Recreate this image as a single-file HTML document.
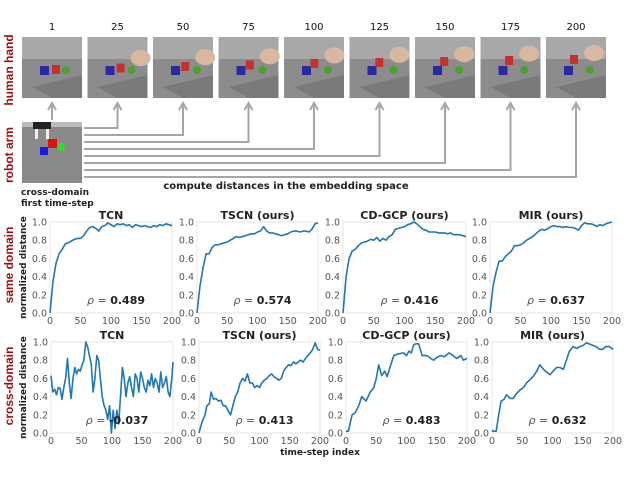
<!DOCTYPE html>
<html><head><meta charset="utf-8"><style>
body{margin:0;background:#fff;width:640px;height:482px;overflow:hidden}
svg{display:block;font-family:"DejaVu Sans","Liberation Sans",sans-serif}
</style></head><body>
<svg id="fig" width="640" height="482" viewBox="0 0 640 482">
<g id="topsec"></g>
<g id="charts"></g>
</svg>
<script>
const NS="http://www.w3.org/2000/svg";
const frameLabels=["1","25","50","75","100","125","150","175","200"];
const handProgress=[0,0.15,0.3,0.45,0.6,0.7,0.8,0.9,1.0];
const titles=["TCN","TSCN (ours)","CD-GCP (ours)","MIR (ours)"];
const rhoSame=["0.489","0.574","0.416","0.637"];
const rhoCross=["-0.037","0.413","0.483","0.632"];
const yTicks=[0,0.2,0.4,0.6,0.8,1.0];
const xTicks=[0,50,100,150,200];
const sameX=[0,5,10,15,20,25,30,35,40,45,50,55,60,65,70,75,80,85,90,95,100,105,110,115,120,125,130,135,140,145,150,155,160,165,170,175,180,185,190,195,200];
const sameTCN=[0,0.35,0.55,0.65,0.7,0.76,0.77,0.79,0.81,0.82,0.82,0.85,0.9,0.94,0.95,0.93,0.9,0.95,0.96,0.99,0.97,0.95,0.98,0.97,0.98,0.96,0.97,0.94,0.97,0.96,0.95,0.96,0.95,0.94,0.96,0.95,0.97,0.96,0.98,0.97,0.96];
const sameTSCN=[0,0.3,0.5,0.65,0.65,0.72,0.75,0.75,0.76,0.77,0.78,0.8,0.82,0.84,0.83,0.84,0.85,0.86,0.87,0.87,0.89,0.9,0.95,0.9,0.88,0.88,0.87,0.86,0.85,0.86,0.87,0.89,0.9,0.9,0.89,0.9,0.9,0.89,0.92,0.98,0.99];
const sameGCP=[0,0.4,0.6,0.68,0.7,0.74,0.77,0.78,0.79,0.81,0.8,0.83,0.79,0.82,0.8,0.84,0.86,0.92,0.93,0.94,0.95,0.97,0.98,1.0,0.98,0.95,0.92,0.91,0.89,0.89,0.89,0.88,0.88,0.88,0.87,0.88,0.86,0.86,0.86,0.85,0.84];
const sameMIR=[0,0.3,0.45,0.57,0.57,0.62,0.65,0.68,0.74,0.74,0.75,0.77,0.8,0.82,0.84,0.87,0.9,0.92,0.91,0.93,0.95,0.96,0.95,0.95,0.94,0.95,0.94,0.94,0.93,0.91,0.96,0.99,0.98,0.98,0.97,0.95,0.97,0.96,0.98,0.99,1.0];
const crossTCNx=[0,3,6,9,12,15,18,21,24,27,30,33,36,39,42,45,48,51,54,57,60,63,66,69,72,75,78,81,84,87,90,93,96,99,102,105,108,111,114,117,120,123,126,129,132,135,138,141,144,147,150,153,156,159,162,165,168,171,174,177,180,183,186,189,192,195,198,200];
const crossTCN=[0.63,0.45,0.48,0.42,0.5,0.49,0.37,0.5,0.6,0.82,0.55,0.38,0.6,0.72,0.65,0.7,0.68,0.75,0.8,1.0,0.95,0.85,0.75,0.45,0.6,0.85,0.8,0.6,0.4,0.3,0.25,0.15,0.3,0.0,0.25,0.05,0.25,0.1,0.4,0.72,0.6,0.4,0.55,0.62,0.5,0.4,0.65,0.6,0.45,0.67,0.6,0.5,0.45,0.58,0.52,0.65,0.5,0.6,0.55,0.45,0.67,0.5,0.55,0.62,0.45,0.4,0.6,0.78];
const crossTSCNx=[0,5,10,13,17,20,24,28,32,36,40,44,48,52,56,60,64,68,72,76,80,84,88,92,96,100,104,108,112,116,120,124,128,132,136,140,144,148,152,156,160,164,168,172,176,180,184,188,192,196,200];
const crossTSCN=[0,0.12,0.2,0.3,0.32,0.45,0.37,0.38,0.35,0.36,0.3,0.3,0.25,0.2,0.3,0.4,0.45,0.55,0.6,0.57,0.65,0.55,0.55,0.5,0.52,0.5,0.55,0.58,0.6,0.63,0.65,0.62,0.6,0.58,0.6,0.68,0.72,0.75,0.74,0.78,0.76,0.78,0.8,0.78,0.82,0.85,0.88,0.92,0.99,0.92,0.91];
const crossGCPx=[0,4,10,15,21,26,33,40,46,50,54,59,64,68,74,79,87,95,100,104,108,112,116,120,126,134,140,145,150,156,163,170,177,183,190,194,200];
const crossGCP=[0.02,0.02,0.2,0.22,0.3,0.4,0.35,0.45,0.5,0.6,0.75,0.63,0.68,0.62,0.75,0.85,0.87,0.88,0.85,0.9,0.88,0.97,0.98,0.98,0.85,0.85,0.82,0.8,0.83,0.85,0.84,0.88,0.85,0.82,0.85,0.8,0.82];
const crossMIRx=[0,2,7,11,15,20,24,30,35,40,46,52,57,62,68,74,79,85,90,96,101,107,112,118,123,128,134,140,145,150,156,164,172,178,183,188,194,200];
const crossMIR=[0.03,0.02,0.02,0.2,0.35,0.37,0.42,0.38,0.38,0.43,0.47,0.5,0.55,0.58,0.62,0.68,0.75,0.7,0.67,0.64,0.68,0.72,0.72,0.7,0.8,0.9,0.95,0.93,0.95,0.96,0.99,0.97,0.95,0.92,0.92,0.95,0.95,0.92];

function el(tag,attrs,parent,txt){const e=document.createElementNS(NS,tag);for(const k in attrs)e.setAttribute(k,attrs[k]);if(txt!==undefined)e.textContent=txt;parent.appendChild(e);return e;}
const topG=document.getElementById('topsec');
const sides=[["human hand",70,"human-hand-label"],["robot arm",155,"robot-arm-label"],["same domain",265,"same-domain-label"],["cross-domain",386,"cross-domain-label"]];
sides.forEach(s=>{const t=el('text',{x:0,y:0,transform:`translate(13,${s[1]}) rotate(-90)`,'text-anchor':'middle','font-size':'12','font-weight':'bold','font-family':'Liberation Sans, sans-serif',fill:'#a01010'},topG,s[0]);

});
const fx0=22,fstep=65.5,fw=60,fy=37,fh=61;
frameLabels.forEach((lab,i)=>{const x=fx0+i*fstep;
const g=el('g',{},topG);


el('rect',{x:x,y:fy,width:fw,height:fh,fill:'#8c8c8c'},g);
el('rect',{x:x,y:fy,width:fw,height:22,fill:'#a8a8a8'},g);
el('polygon',{points:`${x+10},${fy+50} ${x+fw},${fy+38} ${x+fw},${fy+fh} ${x+30},${fy+fh}`,fill:'#7a7a7a'},g);
el('rect',{x:x+18,y:fy+29,width:9,height:9,fill:'#2a2aa0'},g);
const p=handProgress[i];
el('rect',{x:x+30-p*6,y:fy+28-p*10,width:8,height:9,fill:'#c83030'},g);
el('circle',{cx:x+44,cy:fy+33,r:4,fill:'#4aa030'},g);
if(i>0){el('ellipse',{cx:x+fw-6-p*6,cy:fy+22-p*6,rx:10,ry:8,fill:'#d8b8a0'},g);}
const t=el('text',{x:x+fw/2,y:30,'text-anchor':'middle','font-size':'10',fill:'#111'},topG,lab);


});
const rg=el('g',{},topG);


el('rect',{x:22,y:122,width:60,height:61,fill:'#8a8a8a'},rg);
el('rect',{x:22,y:122,width:60,height:5,fill:'#bbb'},rg);
el('rect',{x:33,y:122,width:18,height:7,fill:'#222'},rg);
el('rect',{x:35,y:129,width:3,height:10,fill:'#eee'},rg);
el('rect',{x:46,y:129,width:3,height:10,fill:'#eee'},rg);
el('rect',{x:48,y:139,width:9,height:9,fill:'#e01010'},rg);
el('rect',{x:40,y:147,width:8,height:8,fill:'#1a1ae0'},rg);
el('circle',{cx:61,cy:147,r:4,fill:'#30e030'},rg);
const ag=el('g',{stroke:'#a6a6a6','stroke-width':'2',fill:'none'},topG);


el('line',{x1:52,y1:120,x2:52,y2:104},ag);
el('path',{d:'M48,110 L52,103 L56,110'},ag);
for(let i=1;i<9;i++){const cx=fx0+i*fstep+fw/2;const ly=128+(i-1)*7;
el('polyline',{points:`84,${ly} ${cx},${ly} ${cx},104`},ag);
el('path',{d:`M${cx-4},110 L${cx},103 L${cx+4},110`},ag);}
const ct=el('text',{x:286,y:189,'text-anchor':'middle','font-size':'10','font-weight':'bold',fill:'#222'},topG,'compute distances in the embedding space');


const c1=el('text',{x:21,y:195,'font-size':'9','font-weight':'bold',fill:'#222'},topG,'cross-domain');


const c2=el('text',{x:21,y:206,'font-size':'9','font-weight':'bold',fill:'#222'},topG,'first time-step');



const charts=document.getElementById('charts');
const rows=[{top:222,bot:313,xs:[sameX,sameX,sameX,sameX],ys:[sameTCN,sameTSCN,sameGCP,sameMIR],rho:rhoSame,x0:[50,197,343,490],x1:[172,318,466,612],name:'same'},
{top:342,bot:433,xs:[crossTCNx,crossTSCNx,crossGCPx,crossMIRx],ys:[crossTCN,crossTSCN,crossGCP,crossMIR],rho:rhoCross,x0:[51,199,346,492],x1:[173,320,467,613],name:'cross'}];
rows.forEach(r=>{
for(let k=0;k<4;k++){
const L=r.x0[k],R=r.x1[k];
const sx=v=>L+(v/200)*(R-L);const sy=v=>r.bot-v*(r.bot-r.top);
const g=el('g',{},charts);


el('rect',{x:L,y:r.top,width:R-L,height:r.bot-r.top,fill:'none',stroke:'#e6e6e6','stroke-width':'1'},g);
yTicks.forEach(v=>{const t=el('text',{x:L-3,y:sy(v)+3.5,'text-anchor':'end','font-size':'9.5',fill:'#555'},g,v.toFixed(1));

});
xTicks.forEach(v=>{const t=el('text',{x:sx(v),y:r.bot+11,'text-anchor':'middle','font-size':'9.5',fill:'#555'},g,String(v));

});
const tt=el('text',{x:(L+R)/2,y:r.top-3,'text-anchor':'middle','font-size':'11','font-weight':'bold',fill:'#222'},g,titles[k]);


const xs=r.xs[k],ys=r.ys[k];
const pts=xs.map((x,i)=>sx(x).toFixed(1)+','+sy(ys[i]).toFixed(1)).join(' ');
const ln=el('polyline',{points:pts,fill:'none',stroke:'#1f77b4','stroke-width':'1.6','stroke-linejoin':'round'},g);


const rt=el('text',{x:(L+R)/2+5,y:r.bot-9,'text-anchor':'middle','font-size':'11',fill:'#222'},g);


el('tspan',{'font-style':'italic',fill:'#555'},rt,'ρ');
el('tspan',{fill:'#555'},rt,' = ');
el('tspan',{'font-weight':'bold'},rt,r.rho[k]);
}
const yl=el('text',{transform:`translate(26,${(r.top+r.bot)/2}) rotate(-90)`,'text-anchor':'middle','font-size':'9','font-weight':'bold',fill:'#222'},charts,'normalized distance');


});
const xl=el('text',{x:320,y:455,'text-anchor':'middle','font-size':'9','font-weight':'bold',fill:'#222'},charts,'time-step index');


</script>
</body></html>
